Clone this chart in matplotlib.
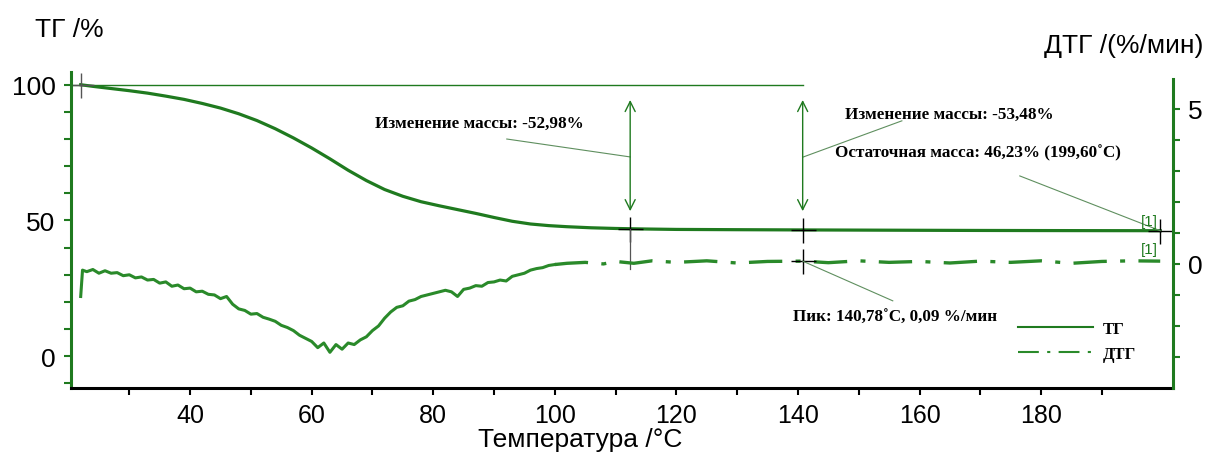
import matplotlib.pyplot as plt
import numpy as np

plt.rcParams['font.family'] = ['Liberation Sans', 'DejaVu Sans']

# TG curve (%)
tg_temp = [22, 24, 27, 30, 33, 36, 39, 42, 45, 48, 51, 54, 57, 60, 63, 66,
           69, 72, 75, 78, 81, 84, 87, 90, 93, 96, 99, 102, 106, 110, 115,
           120, 130, 140, 150, 160, 170, 180, 190, 199.6]
tg_mass = [100, 99.4, 98.6, 97.8, 96.9, 95.8, 94.6, 93.1, 91.4, 89.3, 86.8,
           83.8, 80.4, 76.7, 72.7, 68.5, 64.7, 61.4, 58.9, 56.9, 55.4, 54.0,
           52.6, 51.1, 49.7, 48.7, 48.1, 47.7, 47.3, 47.05, 46.85, 46.7,
           46.6, 46.52, 46.45, 46.38, 46.32, 46.28, 46.25, 46.23]

# DTG curve (%/мин)
dtg_temp = [22, 22.3, 23, 24, 25, 26, 27, 28, 29, 30, 31, 32, 33, 34, 35,
            36, 37, 38, 39, 40, 41, 42, 43, 44, 45, 46, 47, 48, 49, 50, 51,
            52, 53, 54, 55, 56, 57, 58, 59, 60, 61, 62, 63, 64, 65, 66, 67,
            68, 69, 70, 71, 72, 73, 74, 75, 76, 77, 78, 79, 80, 81, 82, 83,
            84, 85, 86, 87, 88, 89, 90, 91, 92, 93, 94, 95, 96, 97, 98, 99,
            100, 102, 105, 108, 110, 113, 116, 120, 125, 130, 135, 140.78,
            145, 150, 155, 160, 165, 170, 175, 180, 185, 190, 195, 199.6]
dtg_rate = [-1.05, -0.2, -0.25, -0.18, -0.3, -0.22, -0.3, -0.28, -0.38,
            -0.35, -0.45, -0.42, -0.52, -0.5, -0.62, -0.58, -0.72, -0.68,
            -0.8, -0.78, -0.9, -0.88, -0.98, -1.0, -1.12, -1.05, -1.3, -1.45,
            -1.5, -1.62, -1.6, -1.72, -1.78, -1.85, -1.98, -2.05, -2.15,
            -2.3, -2.4, -2.5, -2.7, -2.55, -2.85, -2.6, -2.75, -2.55, -2.6,
            -2.45, -2.35, -2.15, -2.0, -1.75, -1.55, -1.4, -1.35, -1.2,
            -1.15, -1.05, -1.0, -0.95, -0.9, -0.85, -0.9, -1.05, -0.82,
            -0.78, -0.7, -0.72, -0.6, -0.58, -0.52, -0.55, -0.4, -0.35, -0.3,
            -0.2, -0.15, -0.12, -0.05, -0.02, 0.02, 0.05, 0.0, 0.08, 0.02,
            0.1, 0.05, 0.1, 0.03, 0.08, 0.09, 0.04, 0.1, 0.05, 0.08, 0.03,
            0.09, 0.05, 0.1, 0.02, 0.08, 0.1, 0.09]

# evaluation results
step1_temp, step1_mass, step1_change = 112.4, 47.02, '-52,98%'
step2_temp, step2_mass, step2_change = 140.78, 46.52, '-53,48%'
peak_temp, peak_rate = 140.78, 0.09
resid_temp, resid_mass = 199.60, 46.23

green = '#1f7a1f'
thin = '#5f8f5f'
serif = dict(family=['Liberation Serif', 'DejaVu Serif'], fontweight='bold')

fig = plt.figure(figsize=(12.09, 4.56), dpi=100)
ax = fig.add_axes([0.0587, 0.147, 0.9115, 0.693])
ax2 = ax.twinx()

ax.set_xlim(20.4, 201.7)
ax.set_ylim(-11.7, 104.7)
ax2.set_ylim(-4.0, 6.19)

# TG
ax.plot(tg_temp, tg_mass, color=green, lw=2.3, label='ТГ')
# DTG: the noisy part looks solid, the flat part dash-dot
dt = np.array(dtg_temp)
dr = np.array(dtg_rate)
m1 = dt <= 100
m2 = dt >= 100
ax2.plot(dt[m1], dr[m1], color='#2a8a2a', lw=2.2)
ddtg, = ax2.plot(dt[m2], dr[m2], color='#2a8a2a', lw=2.4,
                 linestyle=(0, (10, 4, 1.5, 4)))

# reference line at 100 %
ax.plot([ax.get_xlim()[0], step2_temp], [100, 100], color=green, lw=1.0)

# mass change arrows
for t in (step1_temp, step2_temp):
    ax.annotate('', xy=(t, 95.4), xytext=(t, 52.4),
                arrowprops=dict(arrowstyle='<->', color=green, lw=1.0,
                                mutation_scale=18))

# crosshair markers
ax.plot([22], [100], marker='+', ms=18, mew=1.0, color='#555555')
ax.plot([step1_temp, step2_temp, resid_temp],
        [step1_mass, step2_mass, resid_mass],
        ls='none', marker='+', ms=18, mew=1.0, color='black')
ax.plot([step1_temp, step1_temp], [step1_mass, 32], color='#555555', lw=0.9)
ax2.plot([peak_temp], [peak_rate], marker='+', ms=18, mew=1.0, color='black')

# annotation texts and leader lines
ax.text(70.4, 85.9, 'Изменение массы: ' + step1_change, va='center',
        fontsize=12.3, **serif)
ax.plot([92.1, step1_temp], [80.0, 73.4], color=thin, lw=0.8)

ax.text(147.7, 89.2, 'Изменение массы: ' + step2_change, va='center',
        fontsize=12.3, **serif)
ax.plot([step2_temp, 157.1], [73.3, 86.7], color=thin, lw=0.8)

ax.text(146.1, 75.2, 'Остаточная масса: 46,23% (199,60˚C)', va='center',
        fontsize=12.3, **serif)
ax.plot([176.5, resid_temp], [66.4, resid_mass], color=thin, lw=0.8)

ax.text(139.2, 14.5, 'Пик: 140,78˚C, 0,09 %/мин', va='center',
        fontsize=12.3, **serif)
ax2.plot([peak_temp, 155.6], [peak_rate, -1.19], color=thin, lw=0.8)

ax.text(199.2, 49.8, '[1]', ha='right', va='center', color=green,
        fontsize=11)
ax.text(199.2, 39.5, '[1]', ha='right', va='center', color=green,
        fontsize=11)

# axes styling
for a in (ax, ax2):
    a.spines['top'].set_visible(False)
ax.spines['right'].set_visible(False)
ax2.spines['left'].set_visible(False)
ax2.spines['bottom'].set_visible(False)
ax.spines['left'].set_color(green)
ax.spines['left'].set_linewidth(2.2)
ax2.spines['right'].set_color(green)
ax2.spines['right'].set_linewidth(2.2)
ax2.spines['right'].set_bounds(-4.0, 5.95)
ax.spines['bottom'].set_linewidth(2.2)

ax.set_xticks([40, 60, 80, 100, 120, 140, 160, 180])
ax.set_xticks(np.arange(30, 200, 10), minor=True)
ax.set_yticks([0, 50, 100])
ax.set_yticks(np.arange(-10, 101, 10), minor=True)
ax2.set_yticks([0, 5])
ax2.set_yticks(np.arange(-3, 6, 1), minor=True)

ax.tick_params(axis='x', which='both', length=5, width=1.5, labelsize=18,
               pad=6)
ax.tick_params(axis='y', which='both', length=5, width=1.5, colors=green,
               labelcolor='black', labelsize=19, pad=6)
ax2.tick_params(axis='y', which='both', length=5, width=1.5, colors=green,
                labelcolor='black', labelsize=19, pad=6)

fig.text(0.029, 0.935, 'ТГ /%', fontsize=19, va='center')
fig.text(0.995, 0.90, 'ДТГ /(%/мин)', fontsize=19, va='center', ha='right')
fig.text(0.48, 0.035, 'Температура /°C', fontsize=19, va='center',
         ha='center')

leg_tg = ax.get_lines()[0]
leg = ax.legend([leg_tg, ddtg], ['ТГ', 'ДТГ'], loc='upper left',
                bbox_to_anchor=(0.842, 0.294), bbox_transform=fig.transFigure,
                frameon=False, borderpad=0, borderaxespad=0,
                handlelength=4.5, handletextpad=0.6, labelspacing=0.55,
                prop=dict(family='Liberation Serif', weight='bold', size=12))
for h in leg.get_lines():
    h.set_linewidth(1.5)

fig.savefig('out.png', dpi=100)
